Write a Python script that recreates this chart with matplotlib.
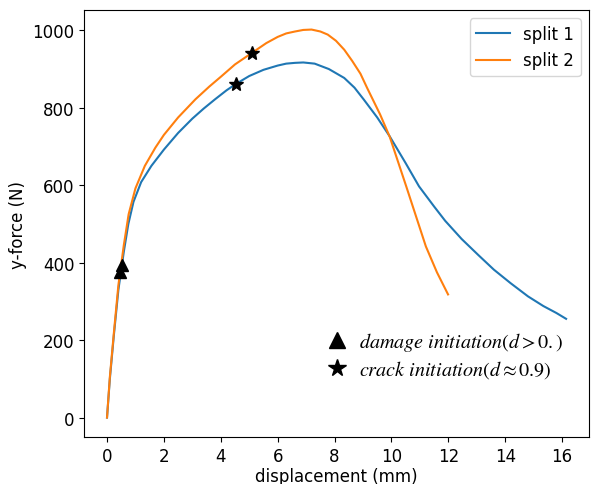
import matplotlib
matplotlib.use('Agg')
from matplotlib import pyplot as plt
from matplotlib.lines import Line2D

# split 1 (blue)
disp1 = [0, 0.1, 0.24, 0.4, 0.59, 0.75, 0.93, 1.2, 1.56, 2.0, 2.5, 3.0, 3.4, 3.8, 4.2,
         4.52, 5.0, 5.5, 6.0, 6.3, 6.61, 6.9, 7.3, 7.8, 8.34, 8.7, 9.03, 9.5, 9.94, 10.5,
         10.97, 11.5, 11.89, 12.47, 13.05, 13.6, 14.19, 14.8, 15.34, 15.8, 16.14]
force1 = [0, 100, 212, 330, 428, 500, 557, 608, 650, 692, 735, 772, 798, 822, 845,
          861, 882, 898, 909, 914, 916, 917, 914, 900, 877, 852, 821, 775, 726, 657,
          597, 545, 508, 461, 420, 382, 347, 313, 288, 270, 255]

# split 2 (orange)
disp2 = [0, 0.1, 0.24, 0.4, 0.59, 0.76, 1.0, 1.33, 1.7, 2.0, 2.5, 3.11, 3.6, 4.0, 4.5,
         5.1, 5.6, 6.0, 6.3, 6.61, 6.9, 7.19, 7.5, 7.76, 8.05, 8.34, 8.62, 8.91, 9.14,
         9.6, 9.94, 10.52, 11.21, 11.6, 11.99]
force2 = [0, 105, 218, 342, 445, 525, 592, 650, 697, 730, 775, 822, 855, 880, 912,
          942, 967, 983, 992, 997, 1001, 1002, 997, 989, 973, 950, 921, 888, 852,
          783, 725, 597, 442, 375, 318]

# damage initiation (d > 0) and crack initiation (d ~ 0.9)
dmg_x = [0.53, 0.45]
dmg_y = [394, 376]
crack_x = [4.52, 5.1]
crack_y = [861, 942]

fig, ax = plt.subplots(figsize=(5.92, 4.85), dpi=100)
fig.subplots_adjust(left=0.142, right=0.995, top=0.977, bottom=0.097)

l1, = ax.plot(disp1, force1, c='#1f77b4', lw=1.5, label='split 1')
l2, = ax.plot(disp2, force2, c='#ff7f0e', lw=1.5, label='split 2')
ax.plot(dmg_x, dmg_y, '^', c='k', ms=8, ls='None')
ax.plot(crack_x, crack_y, '*', c='k', ms=10, ls='None')

ax.set_xlabel('displacement (mm)', fontsize=12, labelpad=1.5)
ax.set_ylabel('y-force (N)', fontsize=12)
ax.tick_params(labelsize=12)
ax.set_xticks(range(0, 17, 2))
ax.set_yticks(range(0, 1001, 200))

leg1 = ax.legend(handles=[l1, l2], loc='upper right', fontsize=12)
ax.add_artist(leg1)

h_dmg = Line2D([], [], marker='^', color='k', ls='None', ms=11)
h_crack = Line2D([], [], marker='*', color='k', ls='None', ms=13)
ax.legend([h_dmg, h_crack],
          [r'$\mathit{damage\ initiation}\left(d>0.\right)$',
           r'$\mathit{crack\ initiation}\left(d\approx0.9\right)$'],
          loc='lower right', bbox_to_anchor=(0.985, 0.09), frameon=False,
          prop={'size': 14.5, 'math_fontfamily': 'stix'},
          handletextpad=0.35, labelspacing=0.25, handlelength=1.5)

plt.savefig('out.png', dpi=100)
